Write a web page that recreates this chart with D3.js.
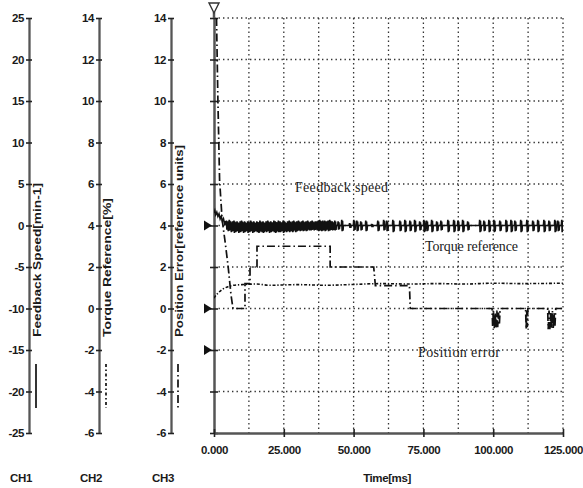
<!DOCTYPE html>
<html>
<head>
<meta charset="utf-8">
<script src="https://cdn.jsdelivr.net/npm/d3@7"></script>
<style>
  body { margin: 0; background: #fff; }
  svg { display: block; }
  .tick-lab { font-family: "Liberation Sans", Arial, sans-serif; font-size: 11.5px; font-weight: bold; fill: #1a1a1a; letter-spacing: -0.4px; }
  .ax-title { font-family: "Liberation Sans", Arial, sans-serif; font-size: 11.5px; font-weight: bold; fill: #1a1a1a; }
  .ann { font-family: "Liberation Serif", "Times New Roman", serif; font-size: 14px; fill: #1a1a1a; }
</style>
</head>
<body>
<svg id="chart" width="583" height="488"></svg>
<script>
// ===================== DATA =====================

const timeTicks = [0, 25, 50, 75, 100, 125];
const gridTimes = [0, 12.5, 25, 37.5, 50, 62.5, 75, 87.5, 100, 112.5, 125];
const ch1Ticks = [25, 20, 15, 10, 5, 0, -5, -10, -15, -20, -25];
const ch2Ticks = [14, 12, 10, 8, 6, 4, 2, 0, -2, -4, -6];
const ch3Ticks = [14, 12, 10, 8, 6, 4, 2, 0, -2, -4, -6];
const channelNames = ['CH1', 'CH2', 'CH3'];
const axisTitles = ['Feedback Speed[min-1]', 'Torque Reference[%]', 'Position Error[reference units]'];

// feedback speed [min-1] : start of decay, then spikes [t, high, low]
const speedStart = [[0, 1.5], [0.3, 1.8], [0.6, 1.3], [1.0, 1.6], [1.4, 1.1], [1.8, 1.4], [2.2, 0.8], [2.6, 1.1], [3.0, 0.5], [3.4, 0.8], [3.8, 0.2], [4.2, 0.5]];
const speedSpikes = [
  [4.6,0.6,-0.5],[5.1,0.5,-0.7],[5.6,0.7,-0.6],[6.2,0.4,-0.8],[6.7,0.5,-0.7],[7.3,0.6,-0.9],[7.8,0.4,-0.8],[8.4,0.5,-0.7],
  [8.9,0.3,-0.9],[9.5,0.5,-0.8],[10.0,0.6,-0.7],[10.6,0.4,-0.9],[11.1,0.5,-0.8],[11.7,0.3,-0.7],[12.2,0.5,-0.9],[12.8,0.4,-0.8],
  [13.3,0.6,-0.7],[13.9,0.4,-0.9],[14.4,0.5,-0.8],[15.0,0.3,-0.7],[15.5,0.5,-0.8],[16.1,0.4,-0.9],[16.6,0.6,-0.7],[17.2,0.4,-0.8],
  [17.7,0.5,-0.9],[18.3,0.3,-0.7],[18.8,0.5,-0.8],[19.4,0.6,-0.7],[19.9,0.4,-0.9],[20.5,0.5,-0.8],[21.0,0.4,-0.7],[21.6,0.6,-0.8],
  [22.1,0.5,-0.9],[22.7,0.4,-0.7],[23.2,0.6,-0.8],[23.8,0.5,-0.8],[24.3,0.4,-0.7],[24.9,0.6,-0.9],[25.4,0.5,-0.7],[26.0,0.3,-0.8],
  [26.5,0.5,-0.7],[27.1,0.6,-0.8],[27.6,0.4,-0.7],[28.2,0.5,-0.8],[28.7,0.6,-0.6],[29.3,0.4,-0.8],[29.8,0.5,-0.7],[30.4,0.6,-0.6],
  [30.9,0.4,-0.7],[31.5,0.5,-0.6],[32.0,0.6,-0.7],[32.6,0.4,-0.6],[33.1,0.5,-0.7],[33.7,0.6,-0.5],[34.2,0.4,-0.6],[34.8,0.5,-0.6],
  [35.3,0.6,-0.5],[35.9,0.4,-0.6],[36.4,0.5,-0.5],[37.0,0.5,-0.6],[37.5,0.6,-0.7],[38.0,0.7,-0.6],[38.6,0.5,-0.7],[39.1,0.6,-0.6],
  [39.8,0.6,-0.7],[40.4,0.5,-0.5],[41.0,0.6,-0.7],[41.6,0.7,-0.6],[42.5,0.5,-0.6],[43.4,0.6,-0.6],[44.6,0.5,-0.5],[45.9,0.7,-0.7],
  [48.7,0.3,-0.3],[50.2,0.7,-0.6],[51.3,0.6,-0.7],[52.7,0.5,-0.6],[54.5,0.6,-0.7],[56.6,0.2,-0.2],[58.8,0.6,-0.7],[60.9,0.7,-0.6],
  [62.0,0.6,-0.7],[64.2,0.7,-0.8],[66.7,0.6,-0.7],[68.5,0.7,-0.8],[70.3,0.6,-0.7],[72.0,0.7,-0.8],[73.8,0.5,-0.6],[75.3,0.7,-0.8],
  [76.3,0.6,-0.7],[78.1,0.7,-0.8],[79.9,0.5,-0.7],[81.4,0.6,-0.6],[83.9,0.7,-0.8],[86.0,0.7,-0.8],[87.5,0.6,-0.7],[89.2,0.7,-0.8],
  [91.0,0.5,-0.6],[95.3,0.7,-0.8],[96.8,0.6,-0.7],[98.6,0.7,-0.8],[100.4,0.7,-0.8],[102.5,0.6,-0.7],[104.7,0.7,-0.8],[106.5,0.7,-0.8],
  [107.9,0.6,-0.7],[110.0,0.7,-0.8],[112.2,0.7,-0.8],[114.3,0.6,-0.7],[116.1,0.7,-0.8],[118.3,0.7,-0.8],[120.1,0.6,-0.7],[122.2,0.7,-0.8],
  [123.3,0.6,-0.7],[124.7,0.7,-0.8]
];

// torque reference [%]
const torque = [[0, 0.5], [0.5, 0.6], [1.5, 0.75], [3, 0.92], [5, 1.05], [7, 1.12], [10, 1.15], [15, 1.18], [20, 1.12],
  [30, 1.15], [40, 1.12], [50, 1.16], [60, 1.2], [70, 1.18], [80, 1.2], [90, 1.18], [100, 1.22], [110, 1.2], [125, 1.22]];

// position error [reference units]
const posError = [[0.9, 14], [1.4, 10], [2.0, 6.2], [2.9, 4.3], [3.9, 3.3], [5.0, 2.1], [6.1, 0.65], [6.8, 0], [11.1, 0],
  [11.1, 1.2], [12.9, 1.2], [12.9, 2], [15.4, 2], [15.4, 3], [41.6, 3], [41.6, 2], [57.2, 2], [57.8, 1.1], [70.0, 1.1],
  [70.3, 0], [99.6, 0], [99.8, -0.9], [100.1, -0.1], [100.4, -1], [100.7, -0.2], [101.0, -0.95], [101.3, -0.1], [101.6, -0.9],
  [101.9, -0.2], [102.2, -0.8], [102.5, 0], [111.6, 0], [111.8, -1.0], [112.0, -0.1], [112.2, -0.9], [112.4, 0],
  [119.5, 0], [119.7, -1], [120.0, -0.1], [120.3, -1], [120.6, -0.2], [120.9, -0.95], [121.2, -0.1], [121.5, -1],
  [121.8, -0.2], [122.1, -0.9], [122.4, 0], [125, 0]];

// ===================== CHART =====================

const svg = d3.select('#chart');
const x = d3.scaleLinear().domain([0, 125]).range([214, 563]);
const y1 = d3.scaleLinear().domain([-25, 25]).range([433, 18]);
const y2 = d3.scaleLinear().domain([-6, 14]).range([433, 18]);
const y3 = d3.scaleLinear().domain([-6, 14]).range([433, 18]);

// grid
const grid = svg.append('g').attr('stroke', '#333').attr('stroke-width', 1.3).attr('stroke-dasharray', '1.4,3.1');
grid.selectAll('.gv').data(gridTimes.slice(1)).join('line')
  .attr('x1', d => x(d)).attr('x2', d => x(d)).attr('y1', y1(25)).attr('y2', y1(-25));
grid.selectAll('.gh').data(ch1Ticks.slice(0, -1)).join('line')
  .attr('x1', x(0)).attr('x2', x(125)).attr('y1', d => y1(d)).attr('y2', d => y1(d));

// left channel axes
const axisX = [29, 99, 171];
const titleLen = [154, 139, 192];
const scales = [y1, y2, y3];
const tickSets = [ch1Ticks, ch2Ticks, ch3Ticks];
axisX.forEach((ax, i) => {
  const g = svg.append('g').attr('transform', `translate(${ax},0)`);
  g.call(d3.axisLeft(scales[i]).tickValues(tickSets[i]).tickSize(3).tickPadding(2).tickSizeOuter(0).tickFormat(d => String(d)));
  g.select('.domain').attr('stroke', '#555').attr('stroke-width', 2.3);
  g.selectAll('.tick line').attr('x1', 3).attr('x2', -3).attr('stroke', '#222').attr('stroke-width', 1.6);
  g.selectAll('.tick text').attr('class', 'tick-lab').attr('font-size', null).attr('font-family', null);
  svg.append('text').attr('class', 'ax-title')
    .attr('transform', `translate(${ax + 12},337) rotate(-90)`)
    .attr('textLength', titleLen[i]).attr('lengthAdjust', 'spacingAndGlyphs')
    .text(axisTitles[i]);
  svg.append('text').attr('class', 'tick-lab').attr('x', ax - 8).attr('y', 482)
    .attr('text-anchor', 'middle').text(channelNames[i]);
});

// legend strokes under channel axes
const legendDash = [null, '3,2.5,1.5,2.5', '8,3,1.5,3'];
axisX.forEach((ax, i) => {
  svg.append('line').attr('x1', ax + 7).attr('x2', ax + 7).attr('y1', 364).attr('y2', 408)
    .attr('stroke', '#111').attr('stroke-width', 1.7).attr('stroke-dasharray', legendDash[i]);
});

// main axes
const gy = svg.append('g').attr('transform', `translate(${x(0)},0)`);
gy.call(d3.axisLeft(y1).tickValues(ch1Ticks).tickSize(4).tickFormat('').tickSizeOuter(0));
gy.select('.domain').attr('stroke', '#555').attr('stroke-width', 2.5);
gy.selectAll('.tick line').attr('x1', 4).attr('x2', -4).attr('stroke', '#222').attr('stroke-width', 1.6);
svg.append('line').attr('x1', x(0)).attr('x2', x(0)).attr('y1', 12).attr('y2', y1(25)).attr('stroke', '#555').attr('stroke-width', 2.5);

const gx = svg.append('g').attr('transform', `translate(0,${y1(-25)})`);
gx.call(d3.axisBottom(x).tickValues(timeTicks).tickSize(4).tickPadding(9).tickFormat(d3.format('.3f')).tickSizeOuter(0));
gx.select('.domain').attr('stroke', '#555').attr('stroke-width', 2.5);
gx.selectAll('.tick line').attr('y1', -4).attr('y2', 4).attr('stroke', '#222').attr('stroke-width', 1.6);
gx.selectAll('.tick text').attr('class', 'tick-lab').attr('font-size', null).attr('font-family', null);
svg.append('text').attr('class', 'tick-lab').attr('x', 387).attr('y', 482).attr('text-anchor', 'middle').text('Time[ms]');

// channel zero markers and trigger
[y1(0), y2(0), y2(-2)].forEach(yy => {
  svg.append('path').attr('d', `M204,${yy - 5}L212,${yy}L204,${yy + 5}Z`).attr('fill', '#111');
});
svg.append('path').attr('d', `M${x(0) - 5},3L${x(0) + 5},3L${x(0)},13Z`)
  .attr('fill', '#fff').attr('stroke', '#333').attr('stroke-width', 1.4);

// traces
svg.append('clipPath').attr('id', 'plot-clip').append('rect')
  .attr('x', x(0)).attr('y', y1(25)).attr('width', x(125) - x(0)).attr('height', y1(-25) - y1(25));
const traces = svg.append('g').attr('clip-path', 'url(#plot-clip)');

const speedPts = speedStart.slice();
for (const [t, hi, lo] of speedSpikes) {
  speedPts.push([t - 0.3, 0], [t - 0.15, hi], [t, lo], [t + 0.15, hi * 0.8], [t + 0.3, lo * 0.9], [t + 0.45, 0]);
}
speedPts.push([125, 0]);

const line1 = d3.line().x(d => x(d[0])).y(d => y1(d[1]));
const line2 = d3.line().x(d => x(d[0])).y(d => y2(d[1])).curve(d3.curveMonotoneX);
const line3 = d3.line().x(d => x(d[0])).y(d => y3(d[1]));

traces.append('path').datum(torque).attr('d', line2)
  .attr('fill', 'none').attr('stroke', '#111').attr('stroke-width', 1.6).attr('stroke-dasharray', '3,1.8,1.3,1.8');
traces.append('path').datum(posError).attr('d', line3)
  .attr('fill', 'none').attr('stroke', '#111').attr('stroke-width', 1.7).attr('stroke-dasharray', '8,3,1.5,3');
traces.append('path').datum(speedPts).attr('d', line1)
  .attr('fill', 'none').attr('stroke', '#111').attr('stroke-width', 1.6);

// annotations
svg.append('text').attr('class', 'ann').attr('x', 295).attr('y', 192).attr('textLength', 93).text('Feedback speed');
svg.append('text').attr('class', 'ann').attr('x', 425).attr('y', 251).attr('textLength', 93).text('Torque reference');
svg.append('text').attr('class', 'ann').attr('x', 418).attr('y', 357).attr('textLength', 82).text('Position error');
</script>
</body>
</html>
